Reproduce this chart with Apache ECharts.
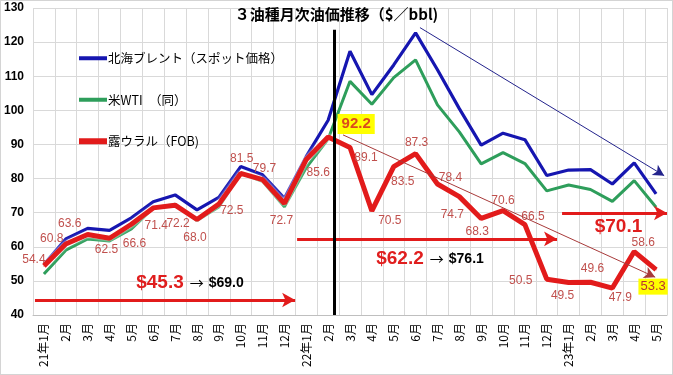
<!DOCTYPE html>
<html>
<head>
<meta charset="utf-8">
<script src="https://cdn.jsdelivr.net/npm/echarts@6/dist/echarts.min.js"></script>
<style>
  html, body { margin: 0; padding: 0; background: #fff; }
  #wrap { position: relative; width: 673px; height: 375px; }
  #chart { width: 673px; height: 375px; }
  #frame { position: absolute; left: 0; top: 0; width: 673px; height: 375px; box-sizing: border-box; border: 1px solid #d4d4d4; pointer-events: none; }
</style>
</head>
<body>
<div id="wrap"><div id="chart"></div><div id="frame"></div></div>
<script>
// ---- data ----
const categories = ['21年1月','2月','3月','4月','5月','6月','7月','8月','9月','10月','11月','12月',
  '22年1月','2月','3月','4月','5月','6月','7月','8月','9月','10月','11月','12月',
  '23年1月','2月','3月','4月','5月'];
const brent = [54.8, 62.3, 65.4, 64.8, 68.5, 73.2, 75.2, 70.8, 74.5, 83.5, 81.1, 74.2,
  86.5, 97.1, 117.3, 104.6, 113.3, 122.7, 111.9, 100.5, 89.8, 93.3, 91.4, 80.9,
  82.5, 82.6, 78.4, 84.6, 75.5];
const wti = [52.0, 59.0, 62.3, 61.7, 65.2, 71.4, 72.5, 67.7, 71.7, 81.5, 79.2, 71.7,
  83.2, 91.6, 108.5, 101.8, 109.6, 114.8, 101.6, 93.7, 84.3, 87.6, 84.4, 76.4,
  78.1, 76.8, 73.3, 79.4, 71.6];
const urals = [54.4, 60.8, 63.6, 62.5, 66.6, 71.4, 72.2, 68.0, 72.5, 81.5, 79.7, 72.7,
  85.6, 92.2, 89.1, 70.5, 83.5, 87.3, 78.4, 74.7, 68.3, 70.6, 66.5, 50.5,
  49.5, 49.6, 47.9, 58.6, 53.3];
const seriesNames = ['北海ブレント（スポット価格）', '米WTI　（同）', '露ウラル（FOB)'];
const titleText = '３油種月次油価推移（$／bbl)';
const yTicks = { min: 40, max: 130, interval: 10 };
// annotation texts
const avgTexts = [
  { red: '$45.3', black: '$69.0' },
  { red: '$62.2', black: '$76.1' },
  { red: '$70.1', black: '' }
];
const highlightIdx = [13, 28];

// ---- layout / style (not data) ----
const labelOffsets = [
  [-10,-6],[-14,-5],[-18,-11],[-3,11],[3,19],[3,18],[3,19],[-2,18],[13,7],[1,-15],[2,-11],[-3,17],
  [12,13],[28,-13],[16,10],[18,10],[9,15],[1,-11],[13,-6],[-7,18],[-4,13],[0,-10],[8,-8],[-26,2],
  [-6,13],[2,-14],[8,10],[9,-9],[-3,17]
];
// annotation anchor points in data space (x: category index on a hidden value axis, y: $)
const redArrowLines = [
  [[-0.41, 44.4], [11.49, 44.4]],
  [[11.58, 62.3], [23.47, 62.3]],
  [[23.7, 69.9], [28.5, 69.9]]
];
const textAnchors = [[6.68, 49.4], [17.66, 56.4], [26.28, 65.8]];
const blueTrend = [[17.2, 124.25], [28.37, 80.85]];
const redTrend = [[13.68, 92.8], [27.96, 51.1]];
const eventLine = [[13.27, 123.6], [13.27, 40]];

const RED = '#e21b1b';
const LABEL_RED = '#c0504d';
const COLORS = ['#1616b0', '#2e9e5b', RED];

const uralsData = urals.map((v, i) => {
  const item = { value: v, label: { offset: labelOffsets[i] } };
  if (i === highlightIdx[0]) {
    item.label = { offset: labelOffsets[i], fontSize: 15, fontWeight: 'bold', color: '#dc4a1c',
      backgroundColor: '#ffff00', padding: [3, 4, 2, 4] };
  } else if (i === highlightIdx[1]) {
    item.label = { offset: labelOffsets[i], fontSize: 13, color: '#b83232',
      backgroundColor: '#ffff00', padding: [2, 2, 1, 2] };
  }
  return item;
});

const chart = echarts.init(document.getElementById('chart'), null, { renderer: 'canvas' });
const option = {
  animation: false,
  backgroundColor: '#ffffff',
  title: {
    text: titleText, left: 'center', top: 2,
    textStyle: { fontFamily: 'Noto Sans CJK JP', fontSize: 15, fontWeight: 'bold', color: '#000' }
  },
  legend: {
    data: [
      { name: seriesNames[0], icon: 'path://M0 0H28V4H0Z', itemStyle: { color: COLORS[0] } },
      { name: seriesNames[1], icon: 'path://M0 0H28V4H0Z', itemStyle: { color: COLORS[1] } },
      { name: seriesNames[2], icon: 'path://M0 0H28V6H0Z', itemStyle: { color: COLORS[2] } }
    ],
    orient: 'vertical', left: 74, top: 47, itemGap: 29,
    itemWidth: 28, itemHeight: 14,
    textStyle: { fontFamily: 'Noto Sans CJK JP', fontSize: 12.5, color: '#000', padding: [0, 0, 0, -4] }
  },
  grid: { left: 33, right: 6, top: 8, bottom: 60 },
  xAxis: [
    {
      type: 'category', data: categories, boundaryGap: true,
      axisLine: { lineStyle: { color: '#bfbfbf' } },
      axisTick: { show: false },
      splitLine: { show: true, interval: 0, lineStyle: { color: '#d9d9d9' } },
      axisLabel: { interval: 0, rotate: 90, margin: 8, fontSize: 12, color: '#000',
        fontFamily: 'Noto Sans CJK JP' }
    },
    { type: 'value', min: -0.5, max: 28.5, show: false }
  ],
  yAxis: {
    type: 'value', min: yTicks.min, max: yTicks.max, interval: yTicks.interval,
    axisLine: { show: false }, axisTick: { show: false },
    splitLine: { lineStyle: { color: '#d9d9d9' } },
    axisLabel: { fontSize: 12, fontWeight: 'bold', color: '#000', fontFamily: 'Arial, Liberation Sans', margin: 9 }
  },
  series: [
    {
      name: seriesNames[0], type: 'line', data: brent, symbol: 'none',
      lineStyle: { color: COLORS[0], width: 3.2, shadowColor: '#ffffff', shadowBlur: 3 },
      itemStyle: { color: COLORS[0] }, z: 2
    },
    {
      name: seriesNames[1], type: 'line', data: wti, symbol: 'none',
      lineStyle: { color: COLORS[1], width: 3 },
      itemStyle: { color: COLORS[1] }, z: 2
    },
    {
      name: seriesNames[2], type: 'line', data: uralsData, symbol: 'circle', symbolSize: 1,
      showSymbol: true, showAllSymbol: true,
      lineStyle: { color: RED, width: 5, shadowColor: '#ffffff', shadowBlur: 3 },
      itemStyle: { color: RED },
      label: { show: true, position: 'inside', align: 'center', verticalAlign: 'middle',
        fontSize: 12, color: LABEL_RED, fontFamily: 'Arial, Liberation Sans',
        formatter: p => Number(p.value).toFixed(1) },
      z: 3
    },
    {
      name: 'trend', type: 'scatter', xAxisIndex: 1, data: [], silent: true, z: 4,
      markLine: {
        silent: true, animation: false, label: { show: false },
        data: [
          [{ coord: blueTrend[0], symbol: 'none', lineStyle: { color: '#23238c', width: 1, type: 'solid' } },
           { coord: blueTrend[1], symbol: 'arrow', symbolSize: [9, 11] }],
          [{ coord: redTrend[0], symbol: 'none', lineStyle: { color: '#a83a3a', width: 1, type: 'solid' } },
           { coord: redTrend[1], symbol: 'arrow', symbolSize: [9, 11] }]
        ]
      }
    },
    {
      name: 'avgArrows', type: 'scatter', xAxisIndex: 1, data: [], silent: true, z: 4,
      markLine: {
        silent: true, animation: false, label: { show: false },
        data: redArrowLines.map(l => [
          { coord: l[0], symbol: 'none', lineStyle: { color: RED, width: 3, type: 'solid' } },
          { coord: l[1], symbol: 'arrow', symbolSize: [11, 13] }
        ])
      },
      markPoint: {
        silent: true, animation: false, symbol: 'circle', symbolSize: 1,
        itemStyle: { color: 'rgba(0,0,0,0)' },
        data: textAnchors.map((c, i) => ({
          coord: c,
          label: {
            show: true, position: 'inside',
            formatter: avgTexts[i].black
              ? '{a|' + avgTexts[i].red + '}{c|→}{b|' + avgTexts[i].black + '}'
              : '{a|' + avgTexts[i].red + '}',
            rich: {
              a: { color: '#e01e1e', fontSize: 19, fontWeight: 'bold', fontFamily: 'Arial, Liberation Sans' },
              c: { color: '#000', fontSize: 14, fontFamily: 'Noto Sans CJK JP', padding: [0, 5, 0, 6] },
              b: { color: '#000', fontSize: 14, fontWeight: 'bold', fontFamily: 'Arial, Liberation Sans' }
            }
          }
        }))
      }
    },
    {
      name: 'event', type: 'scatter', xAxisIndex: 1, data: [], silent: true, z: 5,
      markLine: {
        silent: true, animation: false, label: { show: false }, symbol: 'none',
        data: [[{ coord: eventLine[0], lineStyle: { color: '#000', width: 3, type: 'solid' } },
                { coord: eventLine[1] }]]
      }
    }
  ]
};
chart.setOption(option);
</script>
</body>
</html>
